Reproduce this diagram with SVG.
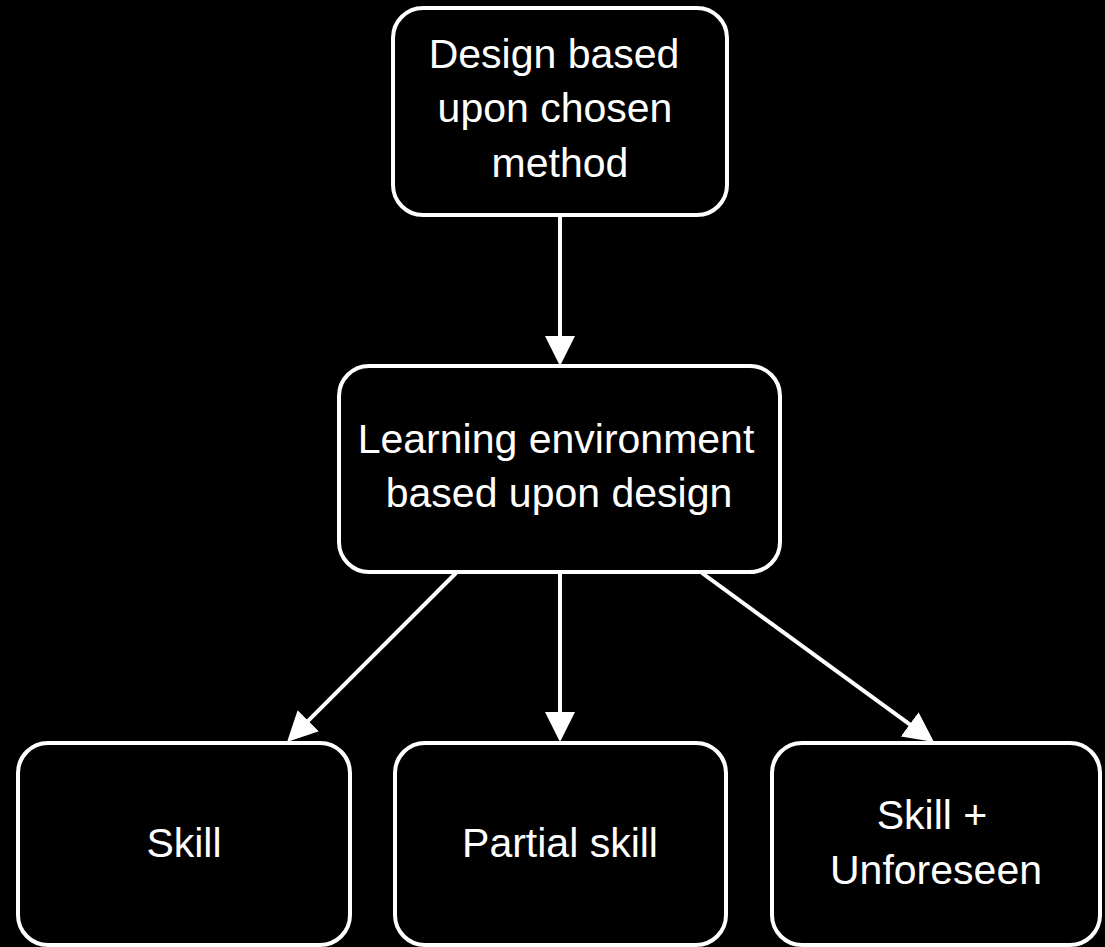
<svg xmlns="http://www.w3.org/2000/svg" width="1105" height="947" viewBox="0 0 1105 947">
  <style>
    .node { fill: #000; stroke: #fff; stroke-width: 4; }
    .label { fill: #fff; font-family: "Liberation Sans", Arial, sans-serif; font-size: 41px; text-anchor: middle; }
    .edge { stroke: #fff; stroke-width: 4; fill: none; marker-end: url(#arrow); }
  </style>
  <defs>
    <marker id="arrow" markerUnits="userSpaceOnUse" markerWidth="30" markerHeight="30" refX="20" refY="15" orient="auto" viewBox="0 0 30 30">
      <path d="M0,0 L30,15 L0,30 z" fill="#fff"/>
    </marker>
  </defs>
  <rect width="1105" height="947" fill="#000"/>
  <g id="connectors">
    <line class="edge" x1="560" y1="215" x2="560" y2="356"/>
    <line class="edge" x1="456" y1="573" x2="294.1" y2="734.9"/>
    <line class="edge" x1="560" y1="573" x2="560" y2="732"/>
    <line class="edge" x1="702" y1="573" x2="925.9" y2="736.1"/>
  </g>
  <g id="node-design">
    <rect class="node" x="393" y="8" width="334" height="207" rx="30" ry="30"/>
    <text class="label" x="554" y="68">Design based</text>
    <text class="label" x="555" y="122">upon chosen</text>
    <text class="label" x="560" y="177">method</text>
  </g>
  <g id="node-environment">
    <rect class="node" x="339" y="366" width="441" height="206" rx="30" ry="30"/>
    <text class="label" x="556" y="453">Learning environment</text>
    <text class="label" x="559" y="507">based upon design</text>
  </g>
  <g id="node-skill">
    <rect class="node" x="18" y="743" width="332" height="202" rx="30" ry="30"/>
    <text class="label" x="184" y="857">Skill</text>
  </g>
  <g id="node-partial">
    <rect class="node" x="395" y="743" width="331" height="202" rx="30" ry="30"/>
    <text class="label" x="560" y="857">Partial skill</text>
  </g>
  <g id="node-unforeseen">
    <rect class="node" x="772" y="743" width="328" height="202" rx="30" ry="30"/>
    <text class="label" x="932" y="829">Skill +</text>
    <text class="label" x="936" y="884">Unforeseen</text>
  </g>
</svg>
